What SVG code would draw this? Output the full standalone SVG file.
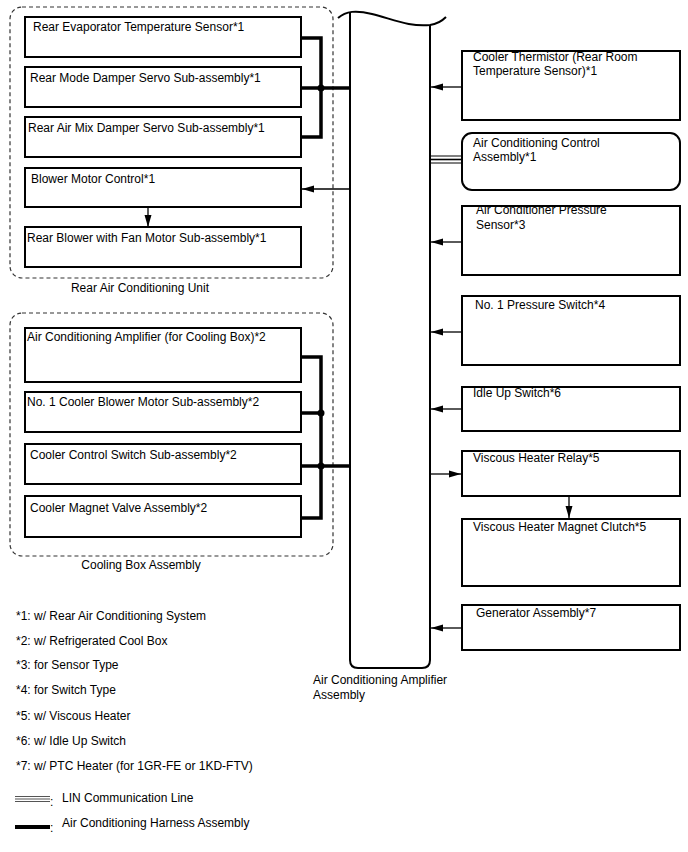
<svg xmlns="http://www.w3.org/2000/svg" width="688" height="852" viewBox="0 0 688 852">
<defs>
<style>
text{font-family:"Liberation Sans",Arial,sans-serif;font-size:12px;fill:#000}
.box{fill:#fff;stroke:#000;stroke-width:2}
.grp{fill:none;stroke:#333;stroke-width:1.2;stroke-dasharray:4 3}
.wire{fill:none;stroke:#000;stroke-width:1.3}
.harn{fill:none;stroke:#000;stroke-width:3.5}
.col{fill:none;stroke:#000;stroke-width:2}
</style>
<marker id="ah" markerWidth="12" markerHeight="8" refX="12" refY="4" orient="auto" markerUnits="userSpaceOnUse"><path d="M0,0.5 L12,4 L0,7.5 z" fill="#000"/></marker>
</defs>
<rect width="688" height="852" fill="#fff"/>

<g id="rear-unit">
<rect class="grp" x="10" y="7" width="323" height="271" rx="12"/>
<text x="140" y="292" text-anchor="middle">Rear Air Conditioning Unit</text>
</g>
<g id="cooling-box">
<rect class="grp" x="10" y="313" width="323" height="243" rx="12"/>
<text x="141" y="569" text-anchor="middle">Cooling Box Assembly</text>
</g>

<g id="amplifier">
<path class="col" d="M350,13 V660 Q350,668 358,668 H422 Q430,668 430,660 V25"/>
<path class="col" d="M338,18 C346,11 356,10 372,14 C395,20 410,27 430,25 C438,24 442,21 446,17"/>
<text x="313" y="684">Air Conditioning Amplifier</text>
<text x="313" y="699">Assembly</text>
</g>

<g id="n-rear-evap"><rect class="box" x="25" y="17" width="276" height="40"/><text x="33" y="31">Rear Evaporator Temperature Sensor*1</text></g>
<g id="n-rear-mode"><rect class="box" x="25" y="67" width="276" height="40"/><text x="30" y="82">Rear Mode Damper Servo Sub-assembly*1</text></g>
<g id="n-rear-airmix"><rect class="box" x="25" y="117" width="276" height="40"/><text x="28" y="132">Rear Air Mix Damper Servo Sub-assembly*1</text></g>
<g id="n-blower-ctrl"><rect class="box" x="25" y="168" width="276" height="39"/><text x="31" y="183">Blower Motor Control*1</text></g>
<g id="n-rear-blower"><rect class="box" x="25" y="227" width="276" height="40"/><text x="27" y="242">Rear Blower with Fan Motor Sub-assembly*1</text></g>

<g id="n-cb-amp"><rect class="box" x="25" y="328" width="276" height="54"/><text x="27" y="341">Air Conditioning Amplifier (for Cooling Box)*2</text></g>
<g id="n-cb-blower"><rect class="box" x="25" y="392" width="276" height="40"/><text x="27" y="406">No. 1 Cooler Blower Motor Sub-assembly*2</text></g>
<g id="n-cb-switch"><rect class="box" x="25" y="444" width="276" height="40"/><text x="30" y="459">Cooler Control Switch Sub-assembly*2</text></g>
<g id="n-cb-valve"><rect class="box" x="25" y="496" width="276" height="41"/><text x="30" y="512">Cooler Magnet Valve Assembly*2</text></g>

<g id="n-thermistor"><rect class="box" x="462" y="51" width="218" height="69"/><text x="473" y="61">Cooler Thermistor (Rear Room</text><text x="473" y="75">Temperature Sensor)*1</text></g>
<g id="n-ac-control"><rect class="box" x="462" y="133" width="218" height="57" rx="10"/><text x="473" y="147">Air Conditioning Control</text><text x="473" y="161">Assembly*1</text></g>
<g id="n-pressure-sensor"><rect class="box" x="462" y="206" width="218" height="69"/><text x="476" y="214">Air Conditioner Pressure</text><text x="476" y="229">Sensor*3</text></g>
<g id="n-pressure-switch"><rect class="box" x="462" y="296" width="218" height="69"/><text x="475" y="309">No. 1 Pressure Switch*4</text></g>
<g id="n-idle-up"><rect class="box" x="462" y="387" width="218" height="44"/><text x="473" y="397">Idle Up Switch*6</text></g>
<g id="n-visc-relay"><rect class="box" x="462" y="451" width="218" height="45"/><text x="473" y="462">Viscous Heater Relay*5</text></g>
<g id="n-visc-clutch"><rect class="box" x="462" y="519" width="218" height="67"/><text x="473" y="531">Viscous Heater Magnet Clutch*5</text></g>
<g id="n-generator"><rect class="box" x="462" y="605" width="218" height="45"/><text x="476" y="617">Generator Assembly*7</text></g>

<g id="connectors">
<path class="harn" d="M301,38 H321 V137 H301"/>
<path class="harn" d="M301,88 H350"/>
<circle cx="321" cy="88" r="3.5"/>
<path class="harn" d="M301,357 H321 V518 H301"/>
<path class="harn" d="M301,413 H321"/>
<path class="harn" d="M301,466 H350"/>
<circle cx="321" cy="413" r="3.5"/>
<circle cx="321" cy="466" r="3.5"/>
<path class="wire" d="M350,189 H302" marker-end="url(#ah)"/>
<path class="wire" d="M148,207 V227" marker-end="url(#ah)"/>
<path class="wire" d="M462,87 H431" marker-end="url(#ah)"/>
<path class="wire" d="M462,242 H431" marker-end="url(#ah)"/>
<path class="wire" d="M462,332 H431" marker-end="url(#ah)"/>
<path class="wire" d="M462,409 H431" marker-end="url(#ah)"/>
<path class="wire" d="M430,474 H461" marker-end="url(#ah)"/>
<path class="wire" d="M569,496 V518" marker-end="url(#ah)"/>
<path class="wire" d="M462,628 H431" marker-end="url(#ah)"/>
<g stroke="#000">
<line x1="430" y1="156" x2="462" y2="156" stroke-width="1"/>
<line x1="430" y1="159.5" x2="462" y2="159.5" stroke-width="1.6"/>
<line x1="430" y1="163" x2="462" y2="163" stroke-width="1"/>
</g>
</g>

<g id="notes">
<text x="16" y="620">*1: w/ Rear Air Conditioning System</text>
<text x="16" y="645">*2: w/ Refrigerated Cool Box</text>
<text x="16" y="669">*3: for Sensor Type</text>
<text x="16" y="694">*4: for Switch Type</text>
<text x="16" y="720">*5: w/ Viscous Heater</text>
<text x="16" y="745">*6: w/ Idle Up Switch</text>
<text x="16" y="770">*7: w/ PTC Heater (for 1GR-FE or 1KD-FTV)</text>
</g>

<g id="legend">
<g stroke="#555" stroke-width="1.2">
<line x1="15" y1="796.5" x2="50" y2="796.5"/>
<line x1="15" y1="799" x2="50" y2="799"/>
<line x1="15" y1="801.5" x2="50" y2="801.5"/>
</g>
<text x="50" y="806">:</text>
<text x="62" y="802">LIN Communication Line</text>
<line x1="15" y1="827" x2="50" y2="827" stroke="#000" stroke-width="4"/>
<text x="50" y="832">:</text>
<text x="62" y="827">Air Conditioning Harness Assembly</text>
</g>
</svg>
